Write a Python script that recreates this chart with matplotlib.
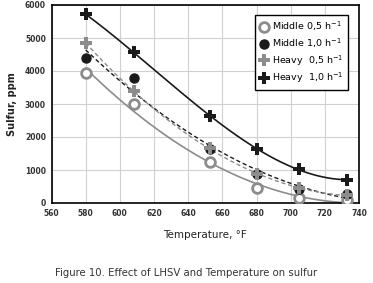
import numpy as np
import matplotlib
matplotlib.use("Agg")
import matplotlib.pyplot as plt

temps = [580, 608, 653, 680, 705, 733]
middle_05 = [3950, 2990, 1250, 450, 140, 90]
middle_10 = [4400, 3780, 1650, 870, 430, 260]
heavy_05 = [4840, 3400, 1660, 870, 445, 240]
heavy_10 = [5720, 4570, 2640, 1630, 1020, 700]
labels = ["Middle 0,5 h$^{-1}$", "Middle 1,0 h$^{-1}$", "Heavy  0,5 h$^{-1}$", "Heavy  1,0 h$^{-1}$"]
xticks = list(range(560, 741, 20))
yticks = list(range(0, 6001, 1000))

fig = plt.figure(figsize=(3.73, 2.83), dpi=100)
ax = fig.add_axes([51.5/373, 1-203/283, (359-51.5)/373, (203-5)/283])

grey = "#8c8c8c"
dark = "#1a1a1a"
x = np.array(temps, float)
xs = np.linspace(temps[0], temps[-1] + 3, 200)

def trend(y, deg=2):
    c = np.polyfit(x, np.array(y, float), deg)
    return np.polyval(c, xs)

ax.plot(xs, trend(middle_05, 2), color=grey, lw=1.2, zorder=2)
ax.plot(xs, trend(middle_10, 2), color=dark, lw=1.0, ls=(0, (3, 2)), zorder=2)
ax.plot(xs, trend(heavy_05, 2), color=grey, lw=1.0, ls=(0, (3, 2)), zorder=2)
ax.plot(xs, trend(heavy_10, 3), color=dark, lw=1.2, zorder=2)

ax.plot(temps, middle_05, ls="none", marker="o", ms=7, mfc="white", mec=grey, mew=2, label=labels[0], zorder=3)
ax.plot(temps, middle_10, ls="none", marker="o", ms=6.5, mfc=dark, mec=dark, label=labels[1], zorder=3)
ax.plot(temps, heavy_05, ls="none", marker="P", ms=8, mfc=grey, mec=grey, mew=0, label=labels[2], zorder=4)
ax.plot(temps, heavy_10, ls="none", marker="P", ms=8, mfc=dark, mec=dark, mew=0, label=labels[3], zorder=4)

ax.set_xlim(560, 740)
ax.set_ylim(0, 6000)
ax.set_xticks(xticks)
ax.set_yticks(yticks)
ax.grid(True, color="#d0d0d0", lw=0.8, zorder=0)
ax.set_axisbelow(True)
ax.tick_params(length=0, labelsize=5.5, colors="#333333", pad=4)
for lab in ax.get_xticklabels() + ax.get_yticklabels():
    lab.set_fontweight("bold")
for s in ax.spines.values():
    s.set_color("black")
    s.set_linewidth(1.2)

ax.set_ylabel("Sulfur, ppm", fontsize=7, color="#222222", labelpad=6, fontweight="bold")
ax.set_xlabel("Temperature, °F", fontsize=7.5, color="#222222", labelpad=9)

leg = ax.legend(loc="upper right", bbox_to_anchor=(0.964, 0.95), borderaxespad=0, fontsize=6.8,
                frameon=True, fancybox=False, edgecolor="black", framealpha=1, handletextpad=0.3,
                borderpad=0.5, labelspacing=0.33, handlelength=1.0)
leg.get_frame().set_linewidth(1.0)

fig.text(0.5, 1-273/283, "Figure 10. Effect of LHSV and Temperature on sulfur", ha="center", va="center",
         fontsize=7.3, color="#333333")

fig.savefig("out.png", dpi=100)
